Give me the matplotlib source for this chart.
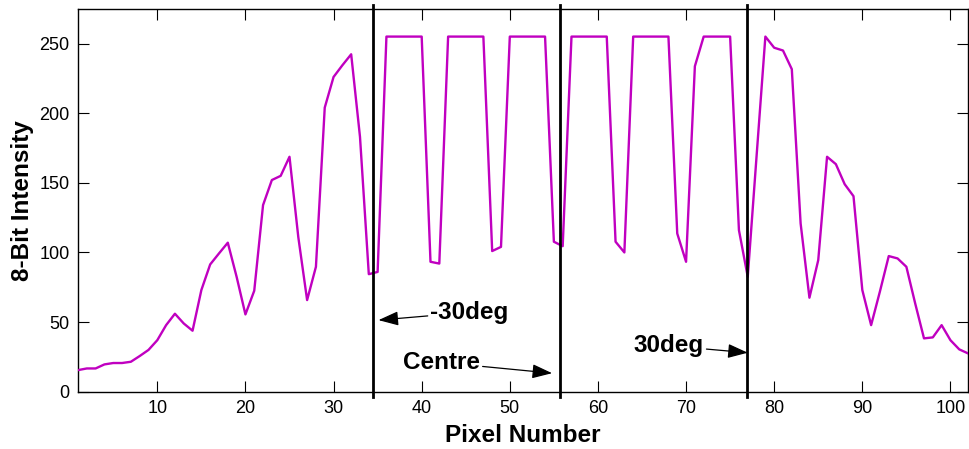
import matplotlib
matplotlib.use("Agg")
import matplotlib.pyplot as plt
import numpy as np

pixel = np.arange(1, 103)
intensity = [
    15.5, 16.7, 16.7, 19.6, 20.6, 20.6, 21.5, 25.6, 30, 37,
    47.8, 56, 49, 43.8, 73, 91.4, 99.3, 107, 82.5, 55.5,
    72.5, 134, 152, 155, 168.7, 111, 65.8, 89.7, 204, 226,
    234.4, 242.3, 183, 84.4, 86, 255, 255, 255, 255, 255,
    93.3, 92, 255, 255, 255, 255, 255, 101, 104, 255,
    255, 255, 255, 255, 107.7, 104.5, 255, 255, 255, 255,
    255, 107.7, 100, 255, 255, 255, 255, 255, 113.6, 93.3,
    233.7, 255, 255, 255, 255, 116, 82.5, 169, 255, 247,
    245, 231.6, 120.8, 67.5, 94.5, 168.7, 163.4, 149, 140.4, 73,
    47.8, 72, 97.4, 95.7, 89.7, 63.4, 38.3, 39, 47.8, 37,
    30.4, 27.5,
]
marker_x = [34.5, 55.7, 76.9]
marker_labels = ["-30deg", "Centre", "30deg"]
label_xy = [(41.0, 57), (46.6, 21), (72.0, 33)]
arrow_tip = [(35.1, 51.4), (54.8, 13.3), (77.0, 28)]

plt.rcParams["font.family"] = ["Liberation Sans", "DejaVu Sans"]

fig = plt.figure(figsize=(9.7, 4.49), dpi=100)
ax = fig.add_axes([0.0804, 0.1276, 0.9176, 0.8514])

ax.plot(pixel, intensity, color="#c000c0", linewidth=1.7, zorder=3)

for xv in marker_x:
    ax.plot([xv, xv], [-3.8, 277.5], color="black", linewidth=2.0,
            clip_on=False, zorder=4)

for lab, (tx, ty), (hx, hy) in zip(marker_labels, label_xy, arrow_tip):
    ha = "left" if lab == "-30deg" else "right"
    ax.annotate(lab, xy=(hx, hy), xytext=(tx, ty), ha=ha, va="center",
                fontsize=17.5, fontweight="bold",
                arrowprops=dict(arrowstyle="-|>,head_length=0.7,head_width=0.25",
                                color="black", lw=0.9,
                                shrinkA=0, shrinkB=0),
                zorder=5)

ax.set_xlim(1, 102)
ax.set_ylim(0, 274.5)
ax.set_xticks(np.arange(10, 101, 10))
ax.set_yticks(np.arange(0, 251, 50))
ax.tick_params(direction="in", length=8, width=0.8, top=True, right=True,
               labelsize=13, pad=6)
for s in ax.spines.values():
    s.set_linewidth(1.0)

ax.set_xlabel("Pixel Number", fontsize=17.5, fontweight="bold", labelpad=5)
ax.set_ylabel("8-Bit Intensity", fontsize=17.5, fontweight="bold", labelpad=4)

fig.savefig("out.png", dpi=100, facecolor="white")
